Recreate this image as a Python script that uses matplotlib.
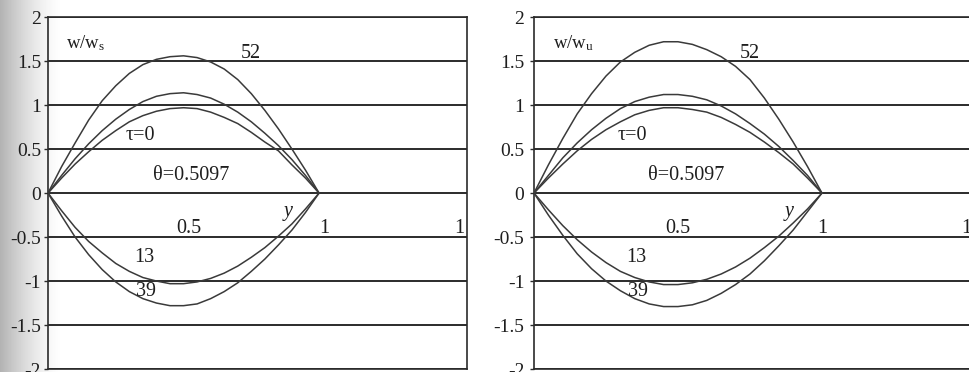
import matplotlib
matplotlib.use('Agg')
import matplotlib.pyplot as plt
from matplotlib.transforms import ScaledTranslation
import numpy as np

plt.rcParams['font.family'] = ['Liberation Serif', 'DejaVu Serif']
plt.rcParams['mathtext.fontset'] = 'custom'
plt.rcParams['mathtext.rm'] = 'Liberation Serif'
plt.rcParams['mathtext.it'] = 'Liberation Serif:italic'

# position along the span
y_pos = [0.00, 0.05, 0.10, 0.15, 0.20, 0.25, 0.30, 0.35, 0.40, 0.45, 0.50,
         0.55, 0.60, 0.65, 0.70, 0.75, 0.80, 0.85, 0.90, 0.95, 1.00]

# left panel, w/w_s
left_52 = [0, 0.30, 0.57, 0.83, 1.05, 1.22, 1.36, 1.46, 1.52, 1.55, 1.56,
           1.54, 1.49, 1.41, 1.29, 1.13, 0.94, 0.73, 0.50, 0.26, 0]
left_mid = [0, 0.20, 0.39, 0.56, 0.71, 0.84, 0.95, 1.04, 1.10, 1.13, 1.14,
            1.12, 1.08, 1.01, 0.92, 0.81, 0.68, 0.54, 0.38, 0.20, 0]
left_tau0 = [0, 0.17, 0.33, 0.47, 0.60, 0.71, 0.81, 0.88, 0.93, 0.96, 0.97,
             0.96, 0.92, 0.86, 0.79, 0.69, 0.58, 0.48, 0.32, 0.17, 0]
left_13 = [0, -0.20, -0.39, -0.55, -0.68, -0.80, -0.89, -0.96, -1.00, -1.03, -1.03,
           -1.01, -0.97, -0.91, -0.83, -0.73, -0.62, -0.49, -0.35, -0.18, 0]
left_39 = [0, -0.26, -0.50, -0.70, -0.87, -1.01, -1.12, -1.20, -1.25, -1.28, -1.28,
           -1.26, -1.20, -1.12, -1.02, -0.89, -0.75, -0.59, -0.42, -0.22, 0]

# right panel, w/w_u
right_52 = [0, 0.32, 0.62, 0.90, 1.13, 1.33, 1.49, 1.60, 1.68, 1.72, 1.72,
            1.69, 1.63, 1.55, 1.44, 1.29, 1.08, 0.84, 0.58, 0.30, 0]
right_mid = [0, 0.20, 0.40, 0.57, 0.72, 0.85, 0.96, 1.04, 1.09, 1.12, 1.12,
             1.10, 1.06, 0.99, 0.90, 0.79, 0.67, 0.53, 0.37, 0.20, 0]
right_tau0 = [0, 0.17, 0.33, 0.48, 0.61, 0.72, 0.81, 0.89, 0.94, 0.97, 0.97,
              0.95, 0.92, 0.86, 0.78, 0.69, 0.58, 0.46, 0.33, 0.17, 0]
right_13 = [0, -0.19, -0.37, -0.53, -0.67, -0.79, -0.89, -0.96, -1.01, -1.04, -1.04,
            -1.02, -0.98, -0.92, -0.84, -0.74, -0.62, -0.49, -0.34, -0.18, 0]
right_39 = [0, -0.25, -0.48, -0.69, -0.86, -1.00, -1.11, -1.20, -1.26, -1.29, -1.29,
            -1.27, -1.22, -1.14, -1.04, -0.92, -0.77, -0.60, -0.42, -0.21, 0]

y_ticks = [-2, -1.5, -1, -0.5, 0, 0.5, 1, 1.5, 2]
y_ticklabels = ['-2', '-1.5', '-1', '-0.5', '0', '0.5', '1', '1.5', '2']
x_marks = [0.5, 1.0, 1.5]
x_marklabels = ['0.5', '1', '1']

ink = '#2b2b2b'
curve_col = '#3a3a3a'
txt_col = '#1e1e1e'
fs = 14.5

fig = plt.figure(figsize=(9.7, 3.72), dpi=100)

# faint grey shading along the left edge of the sheet
bg = fig.add_axes([0, 0, 1, 1], zorder=-10)
cols = np.linspace(0, 1, 970)
shade = 1 - 0.30 * np.clip(1 - cols / 0.065, 0, 1) ** 1.5
bg.imshow(np.tile(shade, (10, 1)), cmap='gray', vmin=0, vmax=1,
          aspect='auto', extent=[0, 1, 0, 1])
bg.axis('off')

panels = [
    ([0.0495, 0.008, 0.432, 0.946], [left_52, left_mid, left_tau0, left_13, left_39],
     'w/w$_\\mathrm{s}$', 2, 5),
    ([0.5505, 0.008, 0.459, 0.946], [right_52, right_mid, right_tau0, right_13, right_39],
     'w/w$_\\mathrm{u}$', 4, 0),
]

for rect, curves, ylab, pad, shift in panels:
    ax = fig.add_axes(rect)
    ax.patch.set_alpha(0)
    for c in curves:
        ax.plot(y_pos, c, color=curve_col, lw=1.1, zorder=3)

    ax.set_xlim(0, 1.546)
    ax.set_ylim(-2, 2)
    ax.set_xticks([])
    ax.set_yticks(y_ticks)
    ax.set_yticklabels(y_ticklabels, fontsize=14)
    ax.tick_params(axis='y', length=3, width=1, color=ink, pad=pad,
                   labelcolor=txt_col)
    ax.yaxis.grid(True, color=ink, lw=1.4)
    for s in ax.spines.values():
        s.set_color(ink)
        s.set_linewidth(1.2)

    # category marks written just under the zero line
    off = ax.transData + ScaledTranslation(shift / 100, 0, fig.dpi_scale_trans)
    for xm, lab in zip(x_marks, x_marklabels):
        ax.text(xm, -0.40, lab, fontsize=fs, ha='center', va='center',
                color=txt_col, transform=off)

    ax.text(0.065, 1.70, ylab, fontsize=13.5, ha='left', va='center', color=txt_col)
    ax.text(0.75, 1.59, '52', fontsize=fs, ha='center', va='center', color=txt_col)
    ax.text(0.34, 0.66, 'τ=0', fontsize=fs, ha='center', va='center', color=txt_col)
    ax.text(0.53, 0.20, 'θ=0.5097', fontsize=fs, ha='center', va='center', color=txt_col)
    ax.text(0.885, -0.21, 'y', fontsize=fs, style='italic', ha='center', va='center',
            color=txt_col)
    ax.text(0.355, -0.73, '13', fontsize=fs, ha='center', va='center', color=txt_col)
    ax.text(0.36, -1.12, '39', fontsize=fs, ha='center', va='center', color=txt_col)

fig.savefig('out.png', dpi=100)
